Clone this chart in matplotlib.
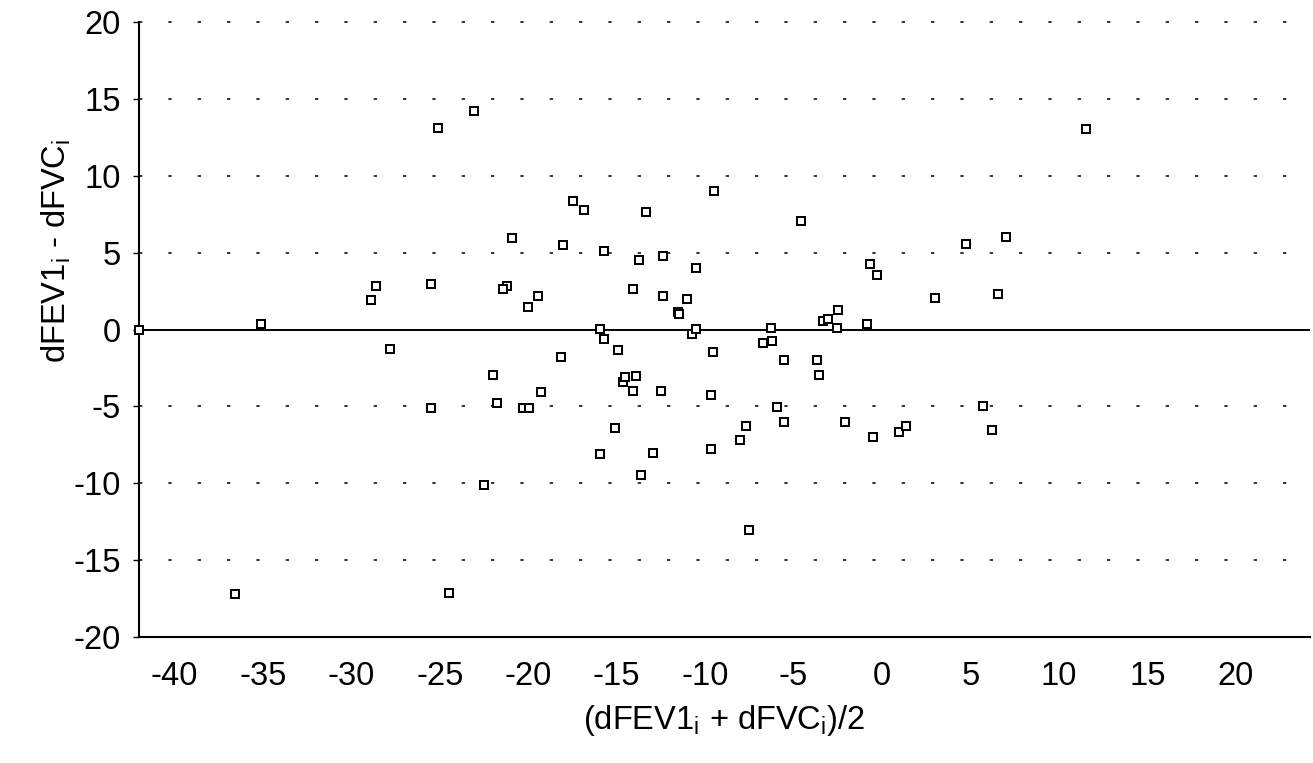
import matplotlib
matplotlib.use("Agg")
import matplotlib.pyplot as plt

plt.rcParams['font.family'] = ['Liberation Sans', 'DejaVu Sans']
plt.rcParams['mathtext.fontset'] = 'custom'
plt.rcParams['mathtext.rm'] = 'Liberation Sans'

# Mean of the two changes (x) and their difference (y), one entry per subject
mean_change = [-42.0, -35.1, -36.55, -28.6, -28.89, -27.83, -25.48, -25.12, -23.05, -25.48,
               -24.45, -22.52, -22.0, -21.77, -21.2, -21.4, -20.92, -20.0, -20.3, -19.98,
               -19.44, -19.27, -18.14, -18.05, -17.48, -16.84, -15.93, -15.74, -15.71, -15.1,
               -15.93, -14.95, -14.65, -14.5, -14.1, -14.05, -13.88, -13.73, -13.63, -13.35,
               -12.97, -12.49, -12.39, -12.39, -11.55, -11.47, -11.0, -10.71, -10.5, -10.53,
               -9.66, -9.66, -9.55, -9.52, -8.0, -7.66, -7.51, -6.7, -6.29, -6.21,
               -5.94, -5.55, -5.55, -4.56, -3.67, -3.56, -3.32, -3.03, -2.56, -2.47,
               -2.07, -0.87, -0.68, -0.53, -0.28, 0.98, 1.37, 2.99, 4.77, 5.71,
               6.25, 6.59, 7.0, 11.51]
diff_change = [0.0, 0.35, -17.19, 2.81, 1.93, -1.3, 2.94, 13.1, 14.18, -5.11,
               -17.16, -10.09, -2.94, -4.76, 2.85, 2.65, 5.95, 1.47, -5.09, -5.09,
               2.19, -4.05, -1.78, 5.5, 8.36, 7.79, 0.02, -0.63, 5.09, -6.41,
               -8.07, -1.36, -3.4, -3.12, -4.03, 2.62, -3.01, 4.5, -9.44, 7.64,
               -8.05, -4.03, 4.81, 2.21, 1.17, 0.99, 2.01, -0.28, 0.05, 4.03,
               -4.29, -7.77, -1.45, 9.03, -7.16, -6.3, -13.05, -0.89, 0.08, -0.74,
               -5.02, -1.99, -6.04, 7.03, -1.97, -2.99, 0.56, 0.69, 0.08, 1.3,
               -6.02, 0.39, 4.29, -7.01, 3.55, -6.65, -6.28, 2.06, 5.56, -5.0,
               -6.51, 2.32, 6.04, 13.07]

x_ticks = [-40, -35, -30, -25, -20, -15, -10, -5, 0, 5, 10, 15, 20]
y_ticks = [-20, -15, -10, -5, 0, 5, 10, 15, 20]
grid_levels = [-15, -10, -5, 5, 10, 15, 20]

fig = plt.figure(figsize=(13.13, 7.63), dpi=100)
ax = fig.add_axes([0.1059, 0.1651, 0.8918, 0.8061])

ax.set_xlim(-42.0, 24.2)
ax.set_ylim(-20, 20)

# dotted reference lines
for g in grid_levels:
    ax.axhline(g, color='black', lw=1.1, dashes=(2.2, 17), zorder=1, clip_on=False)
# zero line
ax.axhline(0, color='black', lw=1.4, zorder=2)

ax.plot(mean_change, diff_change, linestyle='none', marker='s', markersize=6.3,
        markerfacecolor='white', markeredgecolor='black', markeredgewidth=1.45,
        zorder=3, clip_on=False)

for side in ('top', 'right'):
    ax.spines[side].set_visible(False)
for side in ('left', 'bottom'):
    ax.spines[side].set_linewidth(1.5)

ax.set_xticks(x_ticks)
ax.set_yticks(y_ticks)
ax.set_xticklabels([str(t) for t in x_ticks])
ax.set_yticklabels([str(t) for t in y_ticks])
ax.tick_params(axis='x', length=0, pad=17, labelsize=23.5)
ax.tick_params(axis='y', length=4, width=1.0, direction='out', pad=9, labelsize=23.5)

ax.set_xlabel(r'(dFEV1$_\mathregular{i}$ + dFVC$_\mathregular{i}$)/2', fontsize=23.5, labelpad=8)
ax.set_ylabel(r'dFEV1$_\mathregular{i}$ - dFVC$_\mathregular{i}$', fontsize=23.5)
ax.yaxis.set_label_coords(-0.056, 0.628)

fig.savefig('out.png', dpi=100, facecolor='white')
